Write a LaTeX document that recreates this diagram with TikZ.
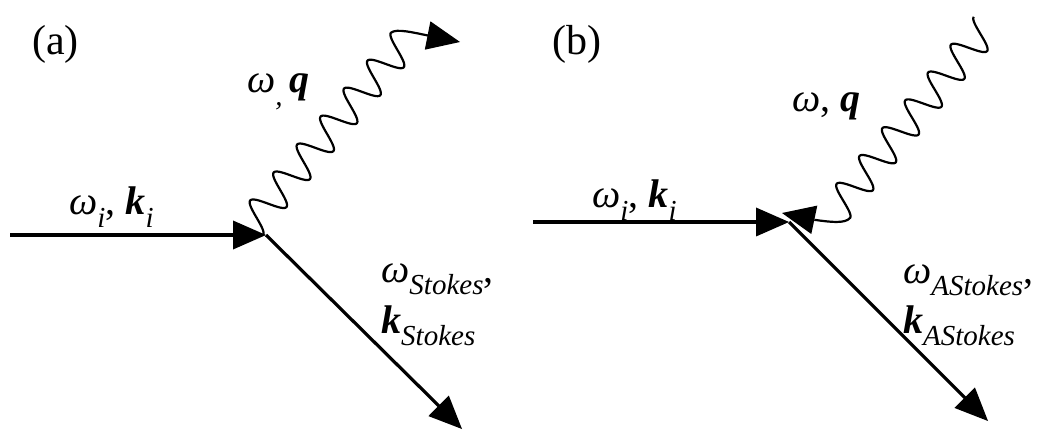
\documentclass[tikz,border=0pt]{standalone}
\usepackage{fontspec}
\setmainfont{LiberationSerif}[Extension=.ttf,UprightFont=*-Regular,ItalicFont=*-Italic,BoldFont=*-Bold,BoldItalicFont=*-BoldItalic]
\newcommand\sbs[1]{\raisebox{-0.32em}{\fontsize{29}{30}\selectfont\itshape #1}}
\newcommand\bvec[1]{\textbf{\textit{#1}}}
\begin{document}
\begin{tikzpicture}[x=1pt,y=-1pt,
  mainline/.style={line width=3.2pt},
  waveline/.style={line width=2.2pt},
  headfill/.style={fill=black},
  lbl/.style={anchor=base west, inner sep=0pt, font=\fontsize{40}{44}\selectfont},
  panel/.style={anchor=base west, inner sep=0pt, font=\fontsize{42}{46}\selectfont}]
\useasboundingbox (0,0) rectangle (1043,430);
% ---------- panel (a) ----------
\coordinate (a0) at (10,235);
\coordinate (ah) at (236,235);
\coordinate (va) at (266,235);
\coordinate (ha1) at (233,220.5);
\coordinate (ha2) at (233,249.5);
\coordinate (ad) at (441,408);
\coordinate (a1) at (462,429);
\coordinate (da1) at (428.4,416.1);
\coordinate (da2) at (448.8,395.5);
\coordinate (qab) at (428,35.5);
\coordinate (qa) at (460,42);
\coordinate (qa1) at (424.8,49.7);
\coordinate (qa2) at (430.4,21.3);
\draw[mainline] (a0) -- (ah);
\fill[headfill] (va) -- (ha1) -- (ha2) -- cycle;
\draw[mainline] (va) -- (ad);
\fill[headfill] (a1) -- (da1) -- (da2) -- cycle;
\draw[waveline] plot[domain=0:6.5,samples=300,variable=\t]
  ({263+\t*36.5*cos(50)+16*(cos(360*\t)-1)*sin(50)},
   {235-\t*36.5*sin(50)+16*(cos(360*\t)-1)*cos(50)})
  .. controls (396,28) and (415,33) .. (qab);
\fill[headfill] (qa) -- (qa1) -- (qa2) -- cycle;
\node[panel] (la) at (32,55) {(a)};
\node[lbl] (wqa) at (247,93) {\textit{ω}\sbs{,}\,\bvec{q}};
\node[lbl] (wia) at (69,215) {\textit{ω}\sbs{i}, \bvec{k}\sbs{i}};
\node[lbl] (wsa) at (381,282) {\textit{ω}\sbs{Stokes},};
\node[lbl] (ksa) at (381,333) {\bvec{k}\sbs{Stokes}};
% ---------- panel (b) ----------
\coordinate (b0) at (533,222);
\coordinate (bh) at (759,222);
\coordinate (vb) at (789,222);
\coordinate (hb1) at (756,207.5);
\coordinate (hb2) at (756,236.5);
\coordinate (bd) at (967,400);
\coordinate (b1) at (988,421);
\coordinate (db1) at (954.4,407.9);
\coordinate (db2) at (974.9,387.4);
\coordinate (qbb) at (814.3,219.8);
\coordinate (qb) at (782,213);
\coordinate (qb1) at (817.3,205.6);
\coordinate (qb2) at (811.3,234.0);
\draw[mainline] (b0) -- (bh);
\fill[headfill] (vb) -- (hb1) -- (hb2) -- cycle;
\draw[mainline] (vb) -- (bd);
\fill[headfill] (b1) -- (db1) -- (db2) -- cycle;
\draw[waveline] plot[domain=0:6.5,samples=300,variable=\s]
  ({850+(6.5-\s)*36*cos(50.6)+16*(cos(360*(6.5-\s))-1)*sin(50.6)},
   {218-(6.5-\s)*36*sin(50.6)+16*(cos(360*(6.5-\s))-1)*cos(50.6)})
  .. controls (845,224) and (830,222) .. (qbb);
\fill[headfill] (qb) -- (qb1) -- (qb2) -- cycle;
\node[panel] (lb) at (552,55) {(b)};
\node[lbl] (wqb) at (792,112) {\textit{ω}, \bvec{q}};
\node[lbl] (wib) at (592,208) {\textit{ω}\sbs{i}, \bvec{k}\sbs{i}};
\node[lbl] (wsb) at (903,283) {\textit{ω}\sbs{AStokes},};
\node[lbl] (ksb) at (903,333) {\bvec{k}\sbs{AStokes}};
\end{tikzpicture}
\end{document}
